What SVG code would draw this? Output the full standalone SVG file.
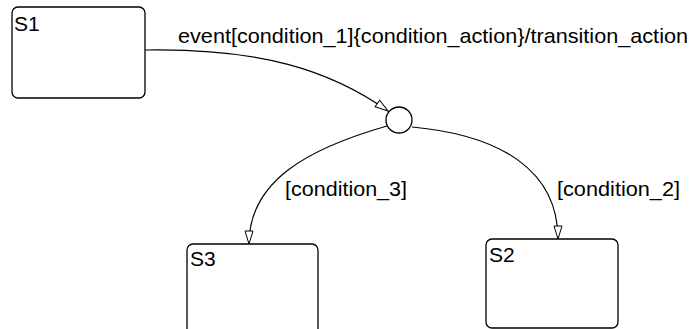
<svg xmlns="http://www.w3.org/2000/svg" width="694" height="329" viewBox="0 0 694 329">
<style>
.st{fill:#fff;stroke:#000;stroke-width:1.3}
.tr{fill:none;stroke:#000;stroke-width:1.2}
.t{font-family:"Liberation Sans",Arial,sans-serif;font-size:21px;fill:#000}
</style>
<defs>
<marker id="ah" markerWidth="16" markerHeight="10" refX="14" refY="5" orient="auto" markerUnits="userSpaceOnUse">
<path d="M1,1 L14,5 L1,9 Z" fill="#fff" stroke="#000" stroke-width="1"/>
</marker>
</defs>
<rect width="694" height="329" fill="#fff"/>
<g id="S1"><rect class="st" x="12" y="7" width="133" height="91" rx="6"/><text class="t" x="14" y="31">S1</text></g>
<g id="S3"><rect class="st" x="187" y="244" width="131" height="100" rx="6"/><text class="t" x="190" y="266">S3</text></g>
<g id="S2"><rect class="st" x="486" y="239" width="132" height="89" rx="6"/><text class="t" x="489" y="262">S2</text></g>
<g id="J"><circle class="st" cx="399" cy="120" r="13"/></g>
<g id="connectors">
<path class="tr" d="M145,50 C260,48 330,70 388,111" marker-end="url(#ah)"/>
<path class="tr" d="M387,126 C310,148 249,180 249,244" marker-end="url(#ah)"/>
<path class="tr" d="M412,127 C500,135 558,170 558,239" marker-end="url(#ah)"/>
<text class="t" x="178" y="43" textLength="510" lengthAdjust="spacingAndGlyphs">event[condition_1]{condition_action}/transition_action</text>
<text class="t" x="285" y="196" textLength="122" lengthAdjust="spacingAndGlyphs">[condition_3]</text>
<text class="t" x="557" y="196" textLength="123" lengthAdjust="spacingAndGlyphs">[condition_2]</text>
</g>
</svg>
